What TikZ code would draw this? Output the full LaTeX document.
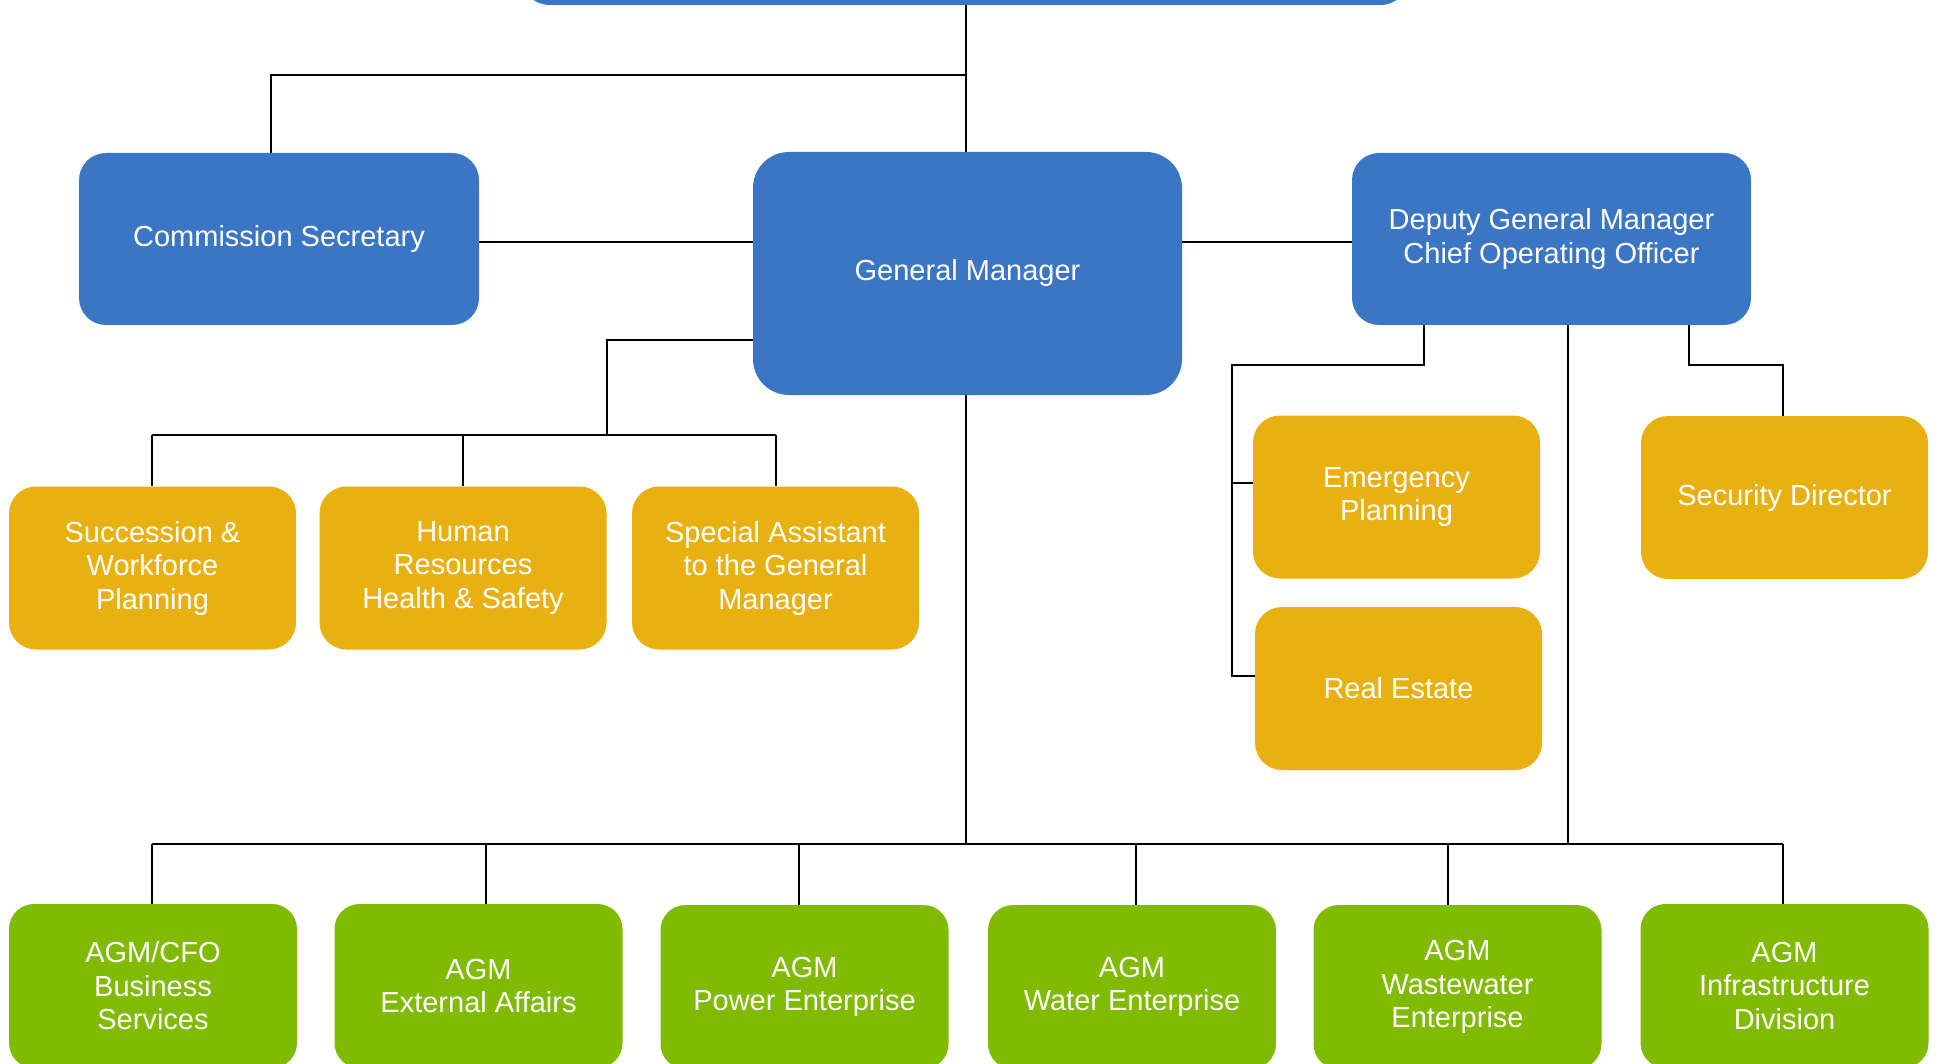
\documentclass[tikz,border=0pt]{standalone}
\usepackage{fontspec}
\setmainfont{Liberation Sans}
\definecolor{bblue}{HTML}{3B76C4}
\definecolor{borange}{HTML}{E9B011}
\definecolor{bgreen}{HTML}{80BA01}
\tikzset{
  box/.style={rectangle, rounded corners=27pt, text=white, align=center, inner sep=0pt, draw=none,
    font=\fontsize{29}{33.5}\selectfont},
  bluebox/.style={box, fill=bblue},
  orangebox/.style={box, fill=borange, minimum width=287pt, minimum height=163pt},
  greenbox/.style={box, fill=bgreen, minimum width=288pt, minimum height=164pt, rounded corners=25pt},
  conn/.style={draw=black, line width=1.6pt},
}
\begin{document}
\begin{tikzpicture}[x=1pt,y=-1pt]
\useasboundingbox (0,0) rectangle (1940,1064);
\clip (0,0) rectangle (1940,1064);
% top box (cut off)
\node[bluebox, minimum width=890pt, minimum height=100pt, rounded corners=30pt] (top) at (965,-45) {};
% blue row
\node[bluebox, minimum width=400pt, minimum height=172pt] (cs) at (279,239) {Commission Secretary};
\node[bluebox, minimum width=429pt, minimum height=243pt, rounded corners=36pt] (gm) at (967.5,273.5) {General Manager};
\node[bluebox, minimum width=399pt, minimum height=172pt] (dgm) at (1551.5,239) {Deputy General Manager\\Chief Operating Officer};
% orange
\node[orangebox] (sw) at (152.5,568) {Succession \&\\Workforce\\Planning};
\node[orangebox] (hr) at (463,568) {Human\\Resources\\Health \& Safety};
\node[orangebox] (sa) at (775.5,568) {Special Assistant\\to the General\\Manager};
\node[orangebox] (ep) at (1396.5,497) {Emergency\\Planning};
\node[orangebox] (re) at (1398.5,688.5) {Real Estate};
\node[orangebox] (sd) at (1784.5,497.5) {Security Director};
% green
\node[greenbox] (g1) at (153,986) {AGM/CFO\\Business\\Services};
\node[greenbox] (g2) at (478.5,986) {AGM\\External Affairs};
\node[greenbox] (g3) at (804.5,987) {AGM\\Power Enterprise};
\node[greenbox] (g4) at (1132,987) {AGM\\Water Enterprise};
\node[greenbox] (g5) at (1457.5,987) {AGM\\Wastewater\\Enterprise};
\node[greenbox] (g6) at (1784.5,986) {AGM\\Infrastructure\\Division};
% junction coordinates
\coordinate (jtop) at (966,75);
\coordinate (csdrop) at (271,75);
\coordinate (gmw) at (607,340);
\coordinate (bus1) at (607,435);
\coordinate (bus1l) at (152,435);
\coordinate (bus1r) at (776,435);
\coordinate (bus2c) at (966,844);
\coordinate (bus2l) at (152,844);
\coordinate (bus2r) at (1783,844);
\coordinate (d1) at (1424,323);
\coordinate (d1j) at (1232,365);
\coordinate (d2) at (1568,323);
\coordinate (d3) at (1689,323);
\coordinate (d3j) at (1783,365);
\coordinate (epin) at (1253,483);
\coordinate (rein) at (1255,676);
% connectors
\draw[conn] (top.south -| jtop) -- (jtop) -- (jtop |- gm.north);
\draw[conn] (jtop) -- (csdrop) -- (csdrop |- cs.north);
\draw[conn] (cs.east |- 0,242) -- (gm.west |- 0,242);
\draw[conn] (gm.east |- 0,242) -- (dgm.west |- 0,242);
\draw[conn] (gmw -| gm.west) -- (gmw) -- (bus1);
\draw[conn] (bus1l) -- (bus1r);
\draw[conn] (bus1l) -- (bus1l |- sw.north);
\draw[conn] (bus1l -| hr.north) -- (hr.north);
\draw[conn] (bus1r) -- (bus1r |- sa.north);
\draw[conn] (gm.south -| bus2c) -- (bus2c);
\draw[conn] (bus2l) -- (bus2r);
\draw[conn] (bus2l) -- (bus2l |- g1.north);
\draw[conn] ([xshift=7.5pt]g2.north |- bus2l) -- ([xshift=7.5pt]g2.north);
\draw[conn] ([xshift=-5.5pt]g3.north |- bus2l) -- ([xshift=-5.5pt]g3.north);
\draw[conn] ([xshift=4pt]g4.north |- bus2l) -- ([xshift=4pt]g4.north);
\draw[conn] ([xshift=-9.5pt]g5.north |- bus2l) -- ([xshift=-9.5pt]g5.north);
\draw[conn] (bus2r) -- (bus2r |- g6.north);
\draw[conn] (d1 |- dgm.south) -- (d1 |- d1j) -- (d1j) -- (d1j |- rein) -- (rein);
\draw[conn] (d1j |- epin) -- (epin);
\draw[conn] (d2 |- dgm.south) -- (d2 |- bus2r);
\draw[conn] (d3 |- dgm.south) -- (d3 |- d3j) -- (d3j) -- (d3j |- sd.north);
\end{tikzpicture}
\end{document}
